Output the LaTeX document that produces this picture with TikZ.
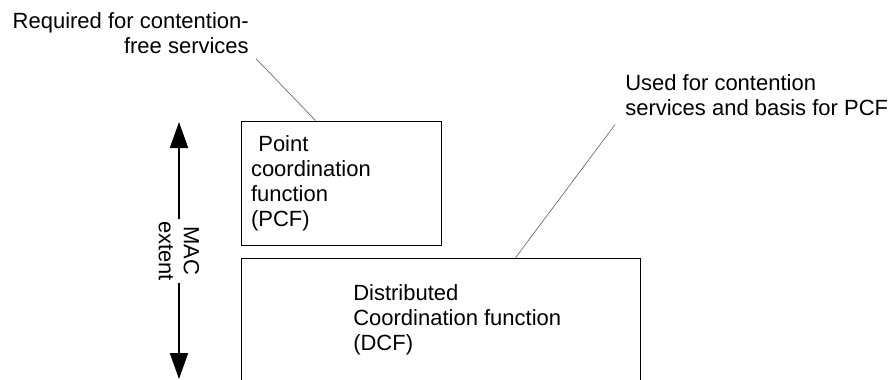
\documentclass[tikz,border=0pt]{standalone}
\usepackage{fontspec}
\setmainfont{Liberation Sans}
\usetikzlibrary{arrows.meta,calc,positioning}

\begin{document}
\begin{tikzpicture}[x=0.75pt,y=-0.75pt,
  every node/.style={font=\fontsize{16.5}{18.75}\selectfont,inner sep=0pt},
  box/.style={draw,line width=0.6pt},
  leader/.style={draw=black!70,line width=0.4pt},
  extentarrow/.style={line width=1.5pt,-{Triangle[length=19.5pt,width=13.5pt]}}]
\useasboundingbox (0,0) rectangle (890,379);
\clip (0,0) rectangle (890,379);
\node[box,align=left,text width=135pt,inner xsep=7.5pt,minimum width=150pt,minimum height=93pt] (pcf) at (341,183) {\ Point\\coordination\\function\\(PCF)};
\node[box,minimum width=299.25pt,minimum height=93pt] (dcf) at (440.5,320) {};
\node[anchor=west,align=left] (dcftext) at (353,320) {Distributed\\Coordination function\\(DCF)};
\node[anchor=north east,align=right] (req) at (249,12) {Required for contention-\\free services};
\node[anchor=north west,align=left] (used) at (625,74) {Used for contention\\services and basis for PCF};
\node[rotate=-90,align=center,inner sep=1.5pt] (mac) at (179,251) {MAC\\extent};
\coordinate (mactop) at (179,122);
\coordinate (macbot) at (179,379);
\draw[extentarrow] (mac) -- (mactop);
\draw[extentarrow] (mac) -- (macbot);
\draw[leader] ($(req.south east)+(7,5)$) -- ($(pcf.north west)+(75,0)$);
\draw[leader] ($(used.south west)+(-10,9)$) -- ($(dcf.north west)+(275,0)$);
\end{tikzpicture}
\end{document}
